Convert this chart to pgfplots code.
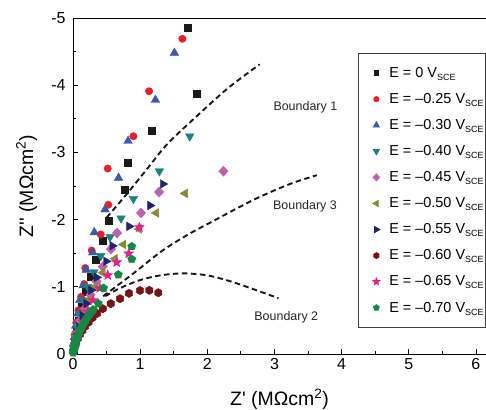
\documentclass[border=0pt]{standalone}
\usepackage{fontspec}
\setmainfont{Liberation Sans}[Ligatures=TeXOff]
\usepackage{pgfplots}
\pgfplotsset{compat=1.18}
\definecolor{cA}{HTML}{1A1A1A}
\definecolor{cB}{HTML}{EE1C25}
\definecolor{cC}{HTML}{3A5BA9}
\definecolor{cD}{HTML}{1A8080}
\definecolor{cE}{HTML}{C060B0}
\definecolor{cF}{HTML}{8A8A30}
\definecolor{cG}{HTML}{1F2370}
\definecolor{cH}{HTML}{7A1414}
\definecolor{cI}{HTML}{EE1A8A}
\definecolor{cJ}{HTML}{128A45}
\pgfdeclareplotmark{hexagon*}{%
  \pgfpathmoveto{\pgfpointpolar{30}{\pgfplotmarksize}}%
  \pgfpathlineto{\pgfpointpolar{90}{\pgfplotmarksize}}%
  \pgfpathlineto{\pgfpointpolar{150}{\pgfplotmarksize}}%
  \pgfpathlineto{\pgfpointpolar{210}{\pgfplotmarksize}}%
  \pgfpathlineto{\pgfpointpolar{270}{\pgfplotmarksize}}%
  \pgfpathlineto{\pgfpointpolar{330}{\pgfplotmarksize}}%
  \pgfpathclose\pgfusepathqfillstroke}
\pgfdeclareplotmark{fstar}{%
  \pgfpathmoveto{\pgfpointpolar{90}{\pgfplotmarksize}}%
  \pgfpathlineto{\pgfpointpolar{126}{0.42\pgfplotmarksize}}%
  \pgfpathlineto{\pgfpointpolar{162}{\pgfplotmarksize}}%
  \pgfpathlineto{\pgfpointpolar{198}{0.42\pgfplotmarksize}}%
  \pgfpathlineto{\pgfpointpolar{234}{\pgfplotmarksize}}%
  \pgfpathlineto{\pgfpointpolar{270}{0.42\pgfplotmarksize}}%
  \pgfpathlineto{\pgfpointpolar{306}{\pgfplotmarksize}}%
  \pgfpathlineto{\pgfpointpolar{342}{0.42\pgfplotmarksize}}%
  \pgfpathlineto{\pgfpointpolar{18}{\pgfplotmarksize}}%
  \pgfpathlineto{\pgfpointpolar{54}{0.42\pgfplotmarksize}}%
  \pgfpathclose\pgfusepathqfillstroke}
\pgfplotsset{mylegend/.style={legend image code/.code={%
  \path (0bp,0bp) (28.5bp,0bp);
  \draw[mark repeat=2,mark phase=2,##1,/tikz/every mark/.append style={scale=0.7}]
    plot coordinates {(0bp,0bp) (18bp,0bp) (28.5bp,0bp)};}}}
\newcommand{\sce}{\raisebox{-3bp}{\fontsize{9}{9}\selectfont SCE}}
\begin{document}
\begin{tikzpicture}
\begin{axis}[
  at={(0,0)}, anchor=south west,
  scale only axis, width=413bp, height=336bp,
  xmin=0, xmax=6.15, ymin=-5, ymax=0, y dir=reverse,
  xtick={0,1,2,3,4,5,6}, xticklabels={0,1,2,3,4,5,6},
  ytick={-5,-4,-3,-2,-1,0}, yticklabels={-5,-4,-3,-2,-1,0},
  minor tick num=1, tick align=inside, tick pos=left,
  major tick length=5bp, minor tick length=3bp,
  tick style={black, line width=0.8bp},
  axis line style={black, line width=0.9bp},
  tick label style={font=\fontsize{16}{16}\selectfont},
  yticklabel style={xshift=-4bp},
  xticklabel style={yshift=-1bp},
  xlabel={Z' (MΩcm\textsuperscript{2})},
  ylabel={Z'' (MΩcm\textsuperscript{2})},
  label style={font=\fontsize{19.5}{19.5}\selectfont, inner sep=0pt},
  xlabel style={at={(axis description cs:0.5,-0.134)}, anchor=center},
  ylabel style={at={(axis description cs:-0.112,0.5)}, anchor=center},
  legend cell align=left,
  legend style={at={(axis description cs:1,0.896)}, anchor=north east,
    draw=black!75, line width=0.8bp, font=\fontsize{14.5}{14.5}\selectfont,
    inner xsep=0bp, inner ysep=12bp, row sep=10.5bp},
]
\addplot[only marks, mylegend, mark=square*, color=cA, mark size=3.5bp] coordinates {
(1.714,-4.85) (1.848,-3.87) (1.177,-3.32) (0.82,-2.84) (0.775,-2.44) (0.537,-1.98) (0.443,-1.68)
(0.34,-1.40) (0.26,-1.15) (0.19,-0.92) (0.13,-0.70) (0.085,-0.50) (0.05,-0.33) (0.025,-0.18) (0.01,-0.07)};
\addlegendentry{E = 0 V\sce}
\addplot[only marks, mylegend, mark=*, color=cB, mark size=3.7bp] coordinates {
(1.629,-4.69) (1.133,-3.91) (0.899,-3.24) (0.517,-2.76) (0.526,-2.22) (0.413,-1.78) (0.279,-1.54)
(0.183,-1.28) (0.168,-1.04) (0.12,-0.85) (0.08,-0.65) (0.05,-0.47) (0.03,-0.30) (0.015,-0.15)};
\addlegendentry{E = –0.25 V\sce}
\addplot[only marks, mylegend, mark=triangle*, color=cC, mark size=5bp] coordinates {
(1.51,-4.48) (1.227,-3.78) (0.82,-3.17) (0.678,-2.62) (0.477,-2.15) (0.317,-1.81) (0.294,-1.51)
(0.198,-1.25) (0.15,-1.02) (0.10,-0.80) (0.07,-0.60) (0.04,-0.42) (0.02,-0.25) (0.01,-0.10)};
\addlegendentry{E = –0.30 V\sce}
\addplot[only marks, mylegend, mark=triangle*, color=cD, mark size=5bp, mark options={rotate=180}] coordinates {
(1.739,-3.24) (1.286,-2.72) (0.899,-2.31) (0.715,-2.02) (0.551,-1.74) (0.413,-1.46) (0.313,-1.22)
(0.22,-1.00) (0.16,-0.80) (0.10,-0.60) (0.06,-0.42) (0.03,-0.25) (0.01,-0.10)};
\addlegendentry{E = –0.40 V\sce}
\addplot[only marks, mylegend, mark=diamond*, color=cE, mark size=5bp, mark options={xscale=1.25}] coordinates {
(2.24,-2.72) (1.282,-2.41) (1.013,-2.10) (0.656,-1.80) (0.566,-1.56) (0.443,-1.30) (0.35,-1.08)
(0.26,-0.88) (0.18,-0.68) (0.11,-0.50) (0.06,-0.32) (0.03,-0.17) (0.01,-0.06)};
\addlegendentry{E = –0.45 V\sce}
\addplot[only marks, mylegend, mark=triangle*, color=cF, mark size=5bp, mark options={rotate=90}] coordinates {
(1.669,-2.39) (1.237,-2.10) (0.984,-1.86) (0.75,-1.63) (0.626,-1.42) (0.443,-1.21) (0.33,-1.00)
(0.24,-0.80) (0.16,-0.60) (0.10,-0.43) (0.05,-0.27) (0.02,-0.12)};
\addlegendentry{E = –0.50 V\sce}
\addplot[only marks, mylegend, mark=triangle*, color=cG, mark size=5bp, mark options={rotate=-90}] coordinates {
(1.337,-2.53) (1.148,-2.21) (0.835,-1.90) (0.586,-1.61) (0.492,-1.38) (0.353,-1.14) (0.27,-0.95)
(0.20,-0.75) (0.14,-0.57) (0.09,-0.40) (0.05,-0.25) (0.02,-0.12)};
\addlegendentry{E = –0.55 V\sce}
\addplot[only marks, mylegend, mark=hexagon*, color=cH, mark size=4.2bp] coordinates {
(1.271,-0.912) (1.137,-0.948) (0.999,-0.945) (0.835,-0.903) (0.70,-0.823) (0.562,-0.749) (0.443,-0.674)
(0.358,-0.603) (0.29,-0.54) (0.23,-0.47) (0.18,-0.41) (0.14,-0.35) (0.10,-0.29) (0.07,-0.23)
(0.05,-0.17) (0.03,-0.12) (0.015,-0.07) (0.005,-0.03)};
\addlegendentry{E = –0.60 V\sce}
\addplot[only marks, mylegend, mark=fstar, color=cI, mark size=5.2bp] coordinates {
(0.988,-1.885) (0.83,-1.495) (0.651,-1.365) (0.517,-1.173) (0.40,-0.98) (0.30,-0.80) (0.22,-0.63)
(0.15,-0.48) (0.09,-0.33) (0.05,-0.20) (0.02,-0.09)};
\addlegendentry{E = –0.65 V\sce}
\addplot[only marks, mylegend, mark=pentagon*, color=cJ, mark size=4.3bp] coordinates {
(0.875,-1.60) (0.875,-1.41) (0.675,-1.18) (0.455,-0.98) (0.377,-0.75) (0.30,-0.66)
(0.28,-0.63) (0.25,-0.59) (0.22,-0.55) (0.19,-0.50) (0.165,-0.46) (0.14,-0.42) (0.12,-0.38)
(0.10,-0.34) (0.085,-0.30) (0.07,-0.26) (0.055,-0.22) (0.045,-0.18) (0.035,-0.15) (0.025,-0.12)
(0.018,-0.09) (0.012,-0.06) (0.007,-0.04) (0.003,-0.02)};
\addlegendentry{E = –0.70 V\sce}
% boundaries
\addplot[smooth, black!90, line width=1.9bp, dash pattern=on 5.5bp off 3.5bp, forget plot] coordinates {
(0.50,-2.03) (0.8,-2.38) (1.1,-2.75) (1.4,-3.12) (1.8,-3.5) (2.3,-3.95) (2.78,-4.31)};
\addplot[smooth, black!90, line width=1.9bp, dash pattern=on 5.5bp off 3.5bp, forget plot] coordinates {
(0.45,-0.86) (0.9,-1.2) (1.32,-1.53) (1.7,-1.77) (2.09,-1.98) (2.7,-2.3) (3.23,-2.53) (3.63,-2.66)};
\addplot[smooth, black!90, line width=1.9bp, dash pattern=on 5.5bp off 3.5bp, forget plot] coordinates {
(0.48,-0.86) (0.7,-0.98) (1.0,-1.1) (1.3,-1.17) (1.64,-1.2) (2.0,-1.17) (2.35,-1.08) (2.7,-0.96) (3.06,-0.83)};
\node[font=\fontsize{12.5}{12.5}\selectfont, black!85] at (axis cs:3.46,-3.665) {Boundary 1};
\node[font=\fontsize{12.5}{12.5}\selectfont, black!85] at (axis cs:3.455,-2.20) {Boundary 3};
\node[font=\fontsize{12.5}{12.5}\selectfont, black!85] at (axis cs:3.176,-0.54) {Boundary 2};
\end{axis}
\pgfresetboundingbox
\path (-73bp,-56bp) rectangle (413bp,354bp);
\end{tikzpicture}
\end{document}
